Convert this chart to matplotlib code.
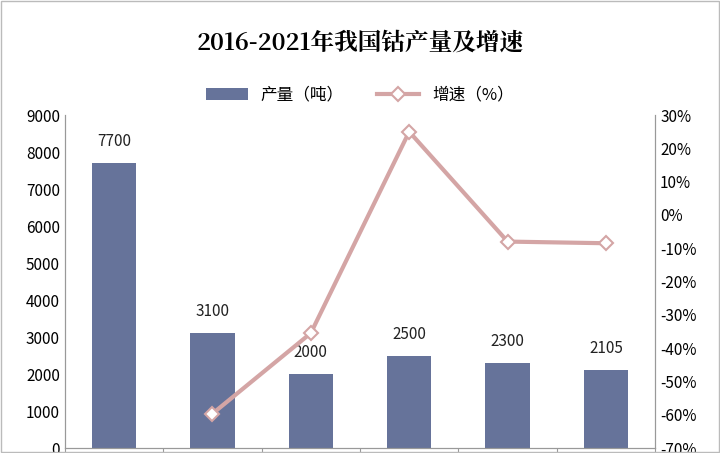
import matplotlib
matplotlib.use("Agg")
import matplotlib.pyplot as plt
from matplotlib.ticker import FuncFormatter

plt.rcParams['font.family'] = ['Noto Sans CJK SC', 'DejaVu Sans']

years = ['2016', '2017', '2018', '2019', '2020', '2021']
output = [7700, 3100, 2000, 2500, 2300, 2105]
growth_years_idx = [1, 2, 3, 4, 5]
growth = [-59.7, -35.5, 25.0, -8.0, -8.5]

fig = plt.figure(figsize=(7.2, 4.53), dpi=100)
ax = fig.add_axes([0.09, 0.011, 0.82, 0.735])
x = list(range(len(years)))
ax.bar(x, output, width=0.45, color='#66739a', zorder=2, label='产量（吨）')
for xi, v in zip(x, output):
    ax.text(xi, v + 350, str(v), ha='center', va='bottom', fontsize=11, color='#222222')
ax.set_ylim(0, 9000)
ax.set_yticks(range(0, 9001, 1000))
ax.set_xlim(-0.5, 5.5)
ax.set_xticks([i + 0.5 for i in range(-1, 6)])
ax.set_xticklabels([])
ax.tick_params(axis='x', length=6, color='#999999')
ax.tick_params(axis='y', labelsize=11, length=0)
for s in ['top']:
    ax.spines[s].set_visible(False)
for s in ['left', 'right', 'bottom']:
    ax.spines[s].set_color('#999999')

ax2 = ax.twinx()
ax2.plot(growth_years_idx, growth, color='#d4a5a5', lw=3, marker='D', ms=7,
         mfc='white', mec='#d4a5a5', mew=1.5, label='增速（%）', zorder=3)
ax2.set_ylim(-70, 30)
ax2.set_yticks(range(-70, 31, 10))
ax2.yaxis.set_major_formatter(FuncFormatter(lambda v, p: f'{int(v)}%'))
ax2.tick_params(axis='y', labelsize=11, length=0)
ax2.spines['top'].set_visible(False)
for s in ['left', 'right', 'bottom']:
    ax2.spines[s].set_color('#999999')

fig.text(0.5, 0.905, '2016-2021年我国钴产量及增速', ha='center', va='center',
         fontsize=17, fontweight='bold', family=['Noto Serif CJK SC', 'Noto Sans CJK SC', 'DejaVu Sans'])
h1, l1 = ax.get_legend_handles_labels()
h2, l2 = ax2.get_legend_handles_labels()
fig.legend(h1 + h2, l1 + l2, loc='center', bbox_to_anchor=(0.5, 0.79), ncol=2,
           frameon=False, fontsize=12, handlelength=2.5)
fig.patches.append(plt.Rectangle((0.002, 0.002), 0.996, 0.996, transform=fig.transFigure,
                                 fill=False, ec='#bbbbbb', lw=1))
fig.savefig('out.png', dpi=100)
